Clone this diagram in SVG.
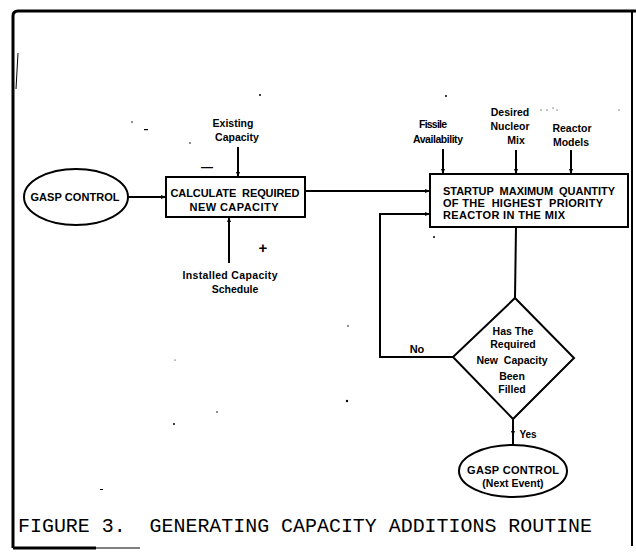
<svg xmlns="http://www.w3.org/2000/svg" width="636" height="554" viewBox="0 0 636 554">
<defs>
<style>
.ln{fill:none;stroke:#000;stroke-width:2}
.shape{fill:#fff;stroke:#000;stroke-width:2}
.t{font-family:"Liberation Sans",Arial,sans-serif;font-weight:bold;fill:#000}
.big{font-size:11px}
.sm{font-size:10.5px}
.cap{font-family:"Liberation Mono","Courier New",monospace;font-size:20px;fill:#000}
.dot{fill:#000}
</style>
<marker id="ah" viewBox="0 0 10 10" refX="10" refY="5" markerWidth="5" markerHeight="5" orient="auto" markerUnits="userSpaceOnUse">
<path d="M0,1 L10,5 L0,9 Z" fill="#000"/>
</marker>
</defs>
<rect width="636" height="554" fill="#fff"/>
<g id="frame">
<path d="M13,548 L13,16 Q13,11 18,11 L636,11" fill="none" stroke="#000" stroke-width="3"/>
<line x1="632" y1="11" x2="632" y2="546" stroke="#000" stroke-width="2"/>
<line x1="13" y1="548" x2="96" y2="548" stroke="#000" stroke-width="3"/>
<line x1="96" y1="548" x2="140" y2="548" stroke="#000" stroke-width="1"/>
<line x1="18" y1="53" x2="16" y2="89" stroke="#000" stroke-width="1"/>
</g>
<g id="specks">
<circle class="dot" cx="260" cy="95" r="1"/>
<circle class="dot" cx="446" cy="96" r="1"/>
<circle class="dot" cx="132" cy="122" r="0.8"/>
<rect class="dot" x="144" y="129" width="4" height="1.2"/>
<circle class="dot" cx="541" cy="110" r="0.6"/>
<circle class="dot" cx="547" cy="110" r="0.6"/>
<circle class="dot" cx="553" cy="108" r="0.6"/>
<circle class="dot" cx="557" cy="110" r="0.6"/>
<circle class="dot" cx="619" cy="110" r="0.6"/>
<circle class="dot" cx="190" cy="143" r="0.8"/>
<circle class="dot" cx="434" cy="237" r="1"/>
<circle class="dot" cx="348" cy="326" r="0.8"/>
<circle class="dot" cx="175" cy="360" r="0.6"/>
<circle class="dot" cx="347" cy="401" r="1.2"/>
<circle class="dot" cx="217" cy="412" r="0.8"/>
<circle class="dot" cx="174" cy="424" r="1"/>
<rect class="dot" x="100" y="489" width="3" height="1"/>
</g>
<g id="connectors">
<line class="ln" x1="128" y1="197" x2="166" y2="197" marker-end="url(#ah)"/>
<line class="ln" x1="238" y1="147" x2="238" y2="177" marker-end="url(#ah)"/>
<line class="ln" x1="229" y1="263" x2="229" y2="217" marker-end="url(#ah)"/>
<line class="ln" x1="305" y1="191" x2="430" y2="191" marker-end="url(#ah)"/>
<line class="ln" x1="443" y1="149" x2="443" y2="174" marker-end="url(#ah)"/>
<line class="ln" x1="516" y1="150" x2="516" y2="174" marker-end="url(#ah)"/>
<line class="ln" x1="571" y1="150" x2="571" y2="174" marker-end="url(#ah)"/>
<polyline class="ln" points="453,357 380,357 380,214 430,214" marker-end="url(#ah)"/>
<line class="ln" x1="516" y1="227" x2="515" y2="298"/>
<line class="ln" x1="513" y1="419" x2="513" y2="436" marker-end="url(#ah)"/>
<line class="ln" x1="513" y1="434" x2="513" y2="445"/>
</g>
<g id="labels">
<text class="t sm" x="233" y="127" text-anchor="middle">Existing</text>
<text class="t sm" x="237" y="141" text-anchor="middle">Capacity</text>
<text class="t" x="207" y="171" font-size="12" text-anchor="middle">—</text>
<text class="t sm" x="230" y="279" text-anchor="middle" textLength="95">Installed Capacity</text>
<text class="t sm" x="235" y="293" text-anchor="middle">Schedule</text>
<text class="t" x="263" y="253" font-size="15" font-weight="normal" text-anchor="middle">+</text>
<text class="t sm" x="433" y="128" text-anchor="middle" textLength="28">Fissile</text>
<text class="t sm" x="438" y="143" text-anchor="middle" textLength="50">Availability</text>
<text class="t sm" x="510" y="116" text-anchor="middle">Desired</text>
<text class="t sm" x="510" y="130" text-anchor="middle">Nucleor</text>
<text class="t sm" x="516" y="144" text-anchor="middle">Mix</text>
<text class="t sm" x="572" y="132" text-anchor="middle">Reactor</text>
<text class="t sm" x="571" y="146" text-anchor="middle">Models</text>
<text class="t" x="417" y="353" font-size="11" text-anchor="middle">No</text>
<text class="t" x="528" y="438" font-size="10" text-anchor="middle">Yes</text>
</g>
<g id="gasp-start">
<ellipse class="shape" cx="76" cy="197" rx="52" ry="28"/>
<text class="t big" x="75" y="201" text-anchor="middle" textLength="89">GASP CONTROL</text>
</g>
<g id="calc-box">
<rect class="shape" x="166" y="177" width="139" height="40"/>
<text class="t big" x="235" y="197" text-anchor="middle" textLength="129" xml:space="preserve">CALCULATE  REQUIRED</text>
<text class="t big" x="234" y="211" text-anchor="middle" textLength="89">NEW CAPACITY</text>
</g>
<g id="startup-box">
<rect class="shape" x="430" y="174" width="198" height="53"/>
<text class="t big" x="443" y="195" textLength="172" xml:space="preserve">STARTUP  MAXIMUM  QUANTITY</text>
<text class="t big" x="443" y="207" textLength="160" xml:space="preserve">OF THE  HIGHEST  PRIORITY</text>
<text class="t big" x="443" y="219" textLength="122">REACTOR IN THE MIX</text>
</g>
<g id="decision">
<polygon class="shape" points="515,298 574,358 513,419 453,357"/>
<text class="t sm" x="513" y="335" text-anchor="middle">Has The</text>
<text class="t sm" x="513" y="348" text-anchor="middle">Required</text>
<text class="t sm" x="512" y="364" text-anchor="middle" xml:space="preserve">New  Capacity</text>
<text class="t sm" x="512" y="380" text-anchor="middle">Been</text>
<text class="t sm" x="512" y="393" text-anchor="middle">Filled</text>
</g>
<g id="gasp-end">
<ellipse class="shape" cx="513" cy="471" rx="54" ry="26"/>
<text class="t big" x="513" y="474" text-anchor="middle" textLength="92">GASP CONTROL</text>
<text class="t sm" x="513" y="487" text-anchor="middle">(Next Event)</text>
</g>
<g id="caption">
<text class="cap" x="18" y="532" textLength="574" lengthAdjust="spacingAndGlyphs" xml:space="preserve">FIGURE 3.  GENERATING CAPACITY ADDITIONS ROUTINE</text>
</g>
</svg>
